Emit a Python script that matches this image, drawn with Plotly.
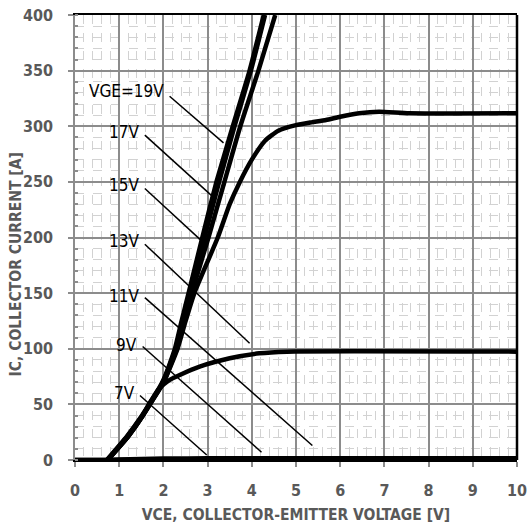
import plotly.graph_objects as go

# ---- data ----
vce_19 = [0.72, 1.17, 1.50, 1.69, 1.85, 2.00, 2.13, 2.26, 2.40, 2.57, 2.88, 3.20, 3.57, 3.95, 4.27]
ic_19 = [0, 21, 39, 51, 61, 72, 85, 100, 123, 150, 200, 250, 300, 350, 400]
vce_17 = [0.73, 1.18, 1.51, 1.70, 1.86, 2.01, 2.14, 2.28, 2.42, 2.60, 2.93, 3.26, 3.61, 3.98, 4.30]
ic_17 = [0, 21, 39, 51, 61, 72, 85, 100, 123, 150, 200, 250, 300, 350, 400]
vce_15 = [0.74, 1.20, 1.52, 1.71, 1.87, 2.03, 2.16, 2.30, 2.45, 2.64, 3.02, 3.38, 3.74, 4.15, 4.53]
ic_15 = [0, 21, 39, 51, 61, 72, 85, 100, 123, 150, 200, 250, 300, 350, 400]
vce_13 = [0.74, 1.20, 1.52, 1.71, 1.87, 2.03, 2.17, 2.32, 2.48, 2.70, 3.23, 3.50, 3.73,
          4.00, 4.30, 4.60, 5.00, 5.35, 5.68, 6.00, 6.43, 6.88, 7.56, 10.0]
ic_13 = [0, 21, 39, 51, 61, 72, 85, 100, 122, 150, 200, 230, 250,
         270, 287, 296, 301, 303.5, 305.6, 308.5, 311.6, 313, 311.6, 311.6]
vce_11 = [0.74, 1.20, 1.52, 1.69, 1.90, 2.10, 2.37, 2.82, 3.50, 4.17, 4.80, 10.0]
ic_11 = [0, 21, 39, 51, 64, 71, 76.4, 83.9, 91.4, 95.9, 97.4, 97.4]
vce_9 = [0, 0.70, 1.00, 1.50, 2.00, 3.00, 10.0]
ic_9 = [0, 0, 0.5, 1.0, 1.3, 1.5, 1.5]
vce_7 = [0, 0.70, 2.00, 10.0]
ic_7 = [0, 0, 0.3, 0.4]

curve_x = [vce_19, vce_17, vce_15, vce_13, vce_11, vce_9, vce_7]
curve_y = [ic_19, ic_17, ic_15, ic_13, ic_11, ic_9, ic_7]

labels = ["VGE=19V", "17V", "15V", "13V", "11V", "9V", "7V"]
label_x = [2.05, 1.50, 1.50, 1.50, 1.50, 1.45, 1.40]
label_y = [332, 295, 247, 197, 147, 103, 60]
leader_x0 = [2.14, 1.58, 1.58, 1.58, 1.58, 1.53, 1.47]
leader_y0 = [327, 292, 244, 194, 146, 102, 58]
leader_x1 = [3.36, 3.11, 3.00, 3.95, 5.37, 4.22, 2.98]
leader_y1 = [285, 237, 192, 105, 13, 7, 4.5]

x_ticks = [0, 1, 2, 3, 4, 5, 6, 7, 8, 9, 10]
y_ticks = [0, 50, 100, 150, 200, 250, 300, 350, 400]

FONT = "Liberation Sans Narrow, DejaVu Sans Condensed, Arial Narrow, sans-serif"
GRAY_TXT = "#595959"

fig = go.Figure()

for i in range(len(labels)):
    fig.add_trace(go.Scatter(
        x=[leader_x0[i], leader_x1[i]], y=[leader_y0[i], leader_y1[i]],
        mode="lines", line=dict(color="black", width=1.5),
        hoverinfo="skip", showlegend=False))

for cx, cy, name in zip(curve_x, curve_y, labels):
    fig.add_trace(go.Scatter(
        x=cx, y=cy, mode="lines", name=name,
        line=dict(color="black", width=4.5, shape="spline", smoothing=0.5),
        showlegend=False))

for t, lx, ly in zip(labels, label_x, label_y):
    fig.add_annotation(x=lx, y=ly, text=t, showarrow=False, xanchor="right",
                       yanchor="middle", font=dict(family=FONT, size=17, color="black"))

fig.update_xaxes(
    range=[0, 10], tickvals=x_ticks, ticktext=[str(v) for v in x_ticks],
    showgrid=True, gridcolor="#8c8c8c", gridwidth=1.5,
    showline=True, linecolor="black", linewidth=2, mirror=True,
    ticks="outside", ticklen=5, tickcolor="#8c8c8c", tickwidth=1.5,
    ticklabelstandoff=10, ticklabeloverflow="allow", automargin=False,
    tickfont=dict(family=FONT, size=16, color=GRAY_TXT, weight="bold"),
    zeroline=False,
    minor=dict(dtick=0.2, showgrid=True, gridcolor="#d2d2d2", griddash="dash", gridwidth=1),
    title=dict(text="VCE, COLLECTOR-EMITTER VOLTAGE [V]", standoff=10,
               font=dict(family=FONT, size=15.5, color=GRAY_TXT, weight="bold")),
)
fig.update_yaxes(
    range=[0, 400], tickvals=y_ticks, ticktext=[str(v) for v in y_ticks],
    showgrid=True, gridcolor="#8c8c8c", gridwidth=1.5,
    showline=True, linecolor="#8c8c8c", linewidth=1.5,
    ticks="outside", ticklen=5, tickcolor="#8c8c8c", tickwidth=1.5,
    ticklabelstandoff=12, automargin=False,
    tickfont=dict(family=FONT, size=16, color=GRAY_TXT, weight="bold"),
    zeroline=False,
    minor=dict(dtick=10, showgrid=True, gridcolor="#d2d2d2", griddash="dash", gridwidth=1,
               ticks="inside", ticklen=3, tickcolor="#8c8c8c"),
)

# right frame line
fig.add_shape(type="line", xref="paper", yref="paper", x0=1, x1=1, y0=0, y1=1,
              line=dict(color="black", width=2.5))

fig.add_annotation(xref="paper", yref="paper", x=-0.133, y=0.44, textangle=-90,
                   text="IC, COLLECTOR CURRENT [A]", showarrow=False,
                   xanchor="center", yanchor="middle",
                   font=dict(family=FONT, size=15.5, color=GRAY_TXT, weight="bold"))

fig.update_layout(
    width=527, height=524,
    margin=dict(l=75, r=10, t=15, b=64, autoexpand=False),
    paper_bgcolor="white", plot_bgcolor="white",
)

fig.write_html("out.html")
